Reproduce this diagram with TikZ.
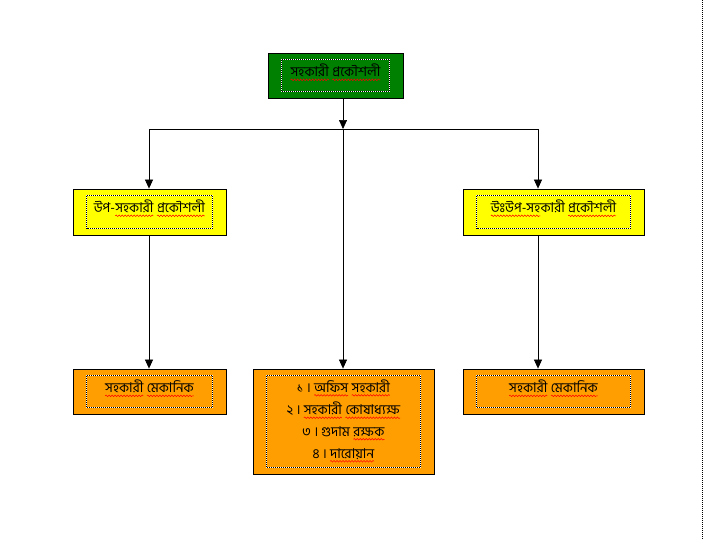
\documentclass[tikz,border=0pt]{standalone}
\usepackage{fontspec}
\newfontfamily\bn[Script=Bengali]{Hind Siliguri}
\usetikzlibrary{arrows.meta,decorations.pathmorphing,calc}
\definecolor{boxgreen}{RGB}{0,128,0}
\definecolor{boxyellow}{RGB}{255,255,0}
\definecolor{boxorange}{RGB}{255,158,0}
\newcommand\wv[1]{\tikz[baseline=(wvn.base)]{\node[inner sep=0pt,outer sep=0pt,draw=none,fill=none,anchor=base](wvn) at (0,0) {#1};\draw[red,line width=0.5pt,decorate,decoration={snake,amplitude=0.8pt,segment length=3pt}] ([yshift=-3.2pt]wvn.base west)--([yshift=-3.2pt]wvn.base east);}}
\begin{document}
\begin{tikzpicture}[x=1pt,y=-1pt,
  box/.style={draw=black,line width=0.8pt,inner sep=0pt,rectangle},
  gbox/.style={box,fill=boxgreen},
  ybox/.style={box,fill=boxyellow},
  obox/.style={box,fill=boxorange},
  lbl/.style={inner sep=0pt,anchor=base,font=\bn\fontsize{13.5}{16}\selectfont,text=black},
  conn/.style={draw=black,line width=0.7pt},
  arr/.style={conn,-{Triangle[length=9pt,width=8pt]}},
  frameW/.style={draw=white,line width=0.9pt},
  frameK/.style={draw=black,line width=0.9pt,dash pattern=on 1pt off 1pt}]
\useasboundingbox (0,0) rectangle (704,539);
\fill[white] (0,0) rectangle (704,539);
\draw[black,line width=0.8pt,dash pattern=on 1pt off 1pt] (702,0) -- (702,539);
% boxes
\node[gbox,minimum width=135pt,minimum height=45pt] (top) at (335.5,75.5) {};
\node[ybox,minimum width=153pt,minimum height=46pt] (lefty) at (149.5,212) {};
\node[ybox,minimum width=181pt,minimum height=46pt] (righty) at (553.5,212) {};
\node[obox,minimum width=153pt,minimum height=45pt] (lefto) at (149.5,391.5) {};
\node[obox,minimum width=181pt,minimum height=105pt] (mido) at (343.5,421.5) {};
\node[obox,minimum width=181pt,minimum height=45pt] (righto) at (553.5,391.5) {};
% inner dotted frames
\foreach \b in {top,lefty,righty,lefto,mido,righto}{
  \draw[frameW] ($(\b.north west)+(14,7)$) rectangle ($(\b.south east)+(-14,-7)$);
  \draw[frameK] ($(\b.north west)+(14,7)$) rectangle ($(\b.south east)+(-14,-7)$);
}
% texts
\node[lbl] (ttop) at ($(top.north)+(0,24)$) {\wv{সহকারী} \wv{প্রকৌশলী}};
\node[lbl] (tlefty) at ($(lefty.north)+(0,24)$) {উপ-\wv{সহকারী} \wv{প্রকৌশলী}};
\node[lbl] (trighty) at ($(righty.north)+(0,24)$) {\wv{উঃউপ-সহ}কারী \wv{প্রকৌশলী}};
\node[lbl] (tlefto) at ($(lefto.north)+(0,24)$) {\wv{সহকারী} \wv{মেকানিক}};
\node[lbl] (trighto) at ($(righto.north)+(0,24)$) {\wv{সহকারী} \wv{মেকানিক}};
\node[lbl] (m1) at ($(mido.north)+(0,23.5)$) {১ । \wv{অফিস} \wv{সহকারী}};
\node[lbl] (m2) at ($(mido.north)+(0,46)$) {২ । \wv{সহকারী} \wv{কোষাধ্যক্ষ}};
\node[lbl] (m3) at ($(mido.north)+(0,67.5)$) {৩ । গুদাম \wv{রক্ষক}};
\node[lbl] (m4) at ($(mido.north)+(0,89.5)$) {৪ । \wv{দারোয়ান}};
% connectors
\coordinate (jm) at (343,129);
\coordinate (jl) at (149,129);
\coordinate (jr) at (538,129);
\draw[arr] (top.south -| jm) -- (jm);
\draw[conn] (jl) -- (jr);
\draw[arr] (jl) -- (lefty.north -| jl);
\draw[arr] (jr) -- (righty.north -| jr);
\draw[arr] (jm) -- (mido.north -| jm);
\draw[arr] (lefty.south -| jl) -- (lefto.north -| jl);
\draw[arr] (righty.south -| jr) -- (righto.north -| jr);
\end{tikzpicture}
\end{document}
